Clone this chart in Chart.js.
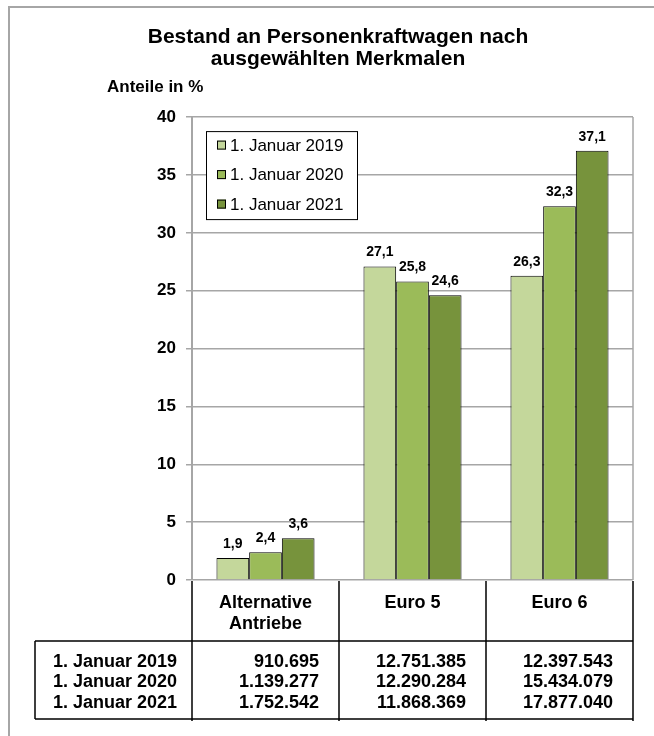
<!DOCTYPE html>
<html lang="de">
<head>
<meta charset="utf-8">
<title>Bestand an Personenkraftwagen nach ausgewählten Merkmalen</title>
<script src="https://cdn.jsdelivr.net/npm/chart.js@4.4.1/dist/chart.umd.min.js"></script>
<style>
  html, body { margin: 0; padding: 0; background: #fff; overflow: hidden; }
  #frame { position: absolute; left: 8px; top: 6px; width: 700px; height: 800px;
           border-top: 2px solid #a6a6a6; border-left: 2px solid #a6a6a6; }
  #wrap { position: absolute; left: 0; top: 0; width: 654px; height: 736px; }
</style>
</head>
<body>
<div id="frame"></div>
<div id="wrap"><canvas id="chart" width="654" height="736"></canvas></div>
<script>
// data
const categories   = [['Alternative', 'Antriebe'], ['Euro 5'], ['Euro 6']];
const seriesLabels = ['1. Januar 2019', '1. Januar 2020', '1. Januar 2021'];
const share2019 = [1.9, 27.1, 26.3];
const share2020 = [2.4, 25.8, 32.3];
const share2021 = [3.6, 24.6, 37.1];
const count2019 = [910695, 12751385, 12397543];
const count2020 = [1139277, 12290284, 15434079];
const count2021 = [1752542, 11868369, 17877040];
const yMax = 40;
const yStep = 5;

const colors = ['#c4d79b', '#9bbb59', '#77933c'];
const FONT = '"Liberation Sans", Arial, sans-serif';
const GRID = '#a6a6a6';

const fmtShare = v => v.toFixed(1).replace('.', ',');
const fmtCount = v => String(v).replace(/\B(?=(\d{3})+(?!\d))/g, '.');

// plot border on the right, legend box, value labels, table
const extras = {
  id: 'extras',
  beforeDatasetsDraw(chart) {
    const { ctx, chartArea: a } = chart;
    ctx.save();
    ctx.strokeStyle = GRID;
    ctx.lineWidth = 1.5;
    ctx.beginPath();
    ctx.moveTo(a.right, a.top);
    ctx.lineTo(a.right, a.bottom);
    ctx.stroke();
    ctx.restore();
  },
  afterDatasetsDraw(chart) {
    const { ctx } = chart;
    ctx.save();
    ctx.fillStyle = '#000';
    ctx.font = `bold 14px ${FONT}`;
    ctx.textAlign = 'center';
    ctx.textBaseline = 'middle';
    chart.data.datasets.forEach((ds, i) => {
      chart.getDatasetMeta(i).data.forEach((bar, j) => {
        ctx.fillText(fmtShare(ds.data[j]), bar.x, bar.y - 14);
      });
    });
    ctx.restore();
  },
  afterDraw(chart) {
    const { ctx, chartArea: a, scales: { x } } = chart;
    const n = chart.data.labels.length;
    const step = a.width / n;
    const bounds = [];
    for (let i = 0; i <= n; i++) bounds.push(a.left + i * step);

    ctx.save();
    ctx.fillStyle = '#000';
    ctx.textBaseline = 'middle';

    // axis caption
    ctx.font = `bold 17px ${FONT}`;
    ctx.textAlign = 'left';
    ctx.fillText('Anteile in %', a.left - 85, a.top - 30);

    // legend
    const lx = a.left + 14, ly = a.top + 14;
    ctx.fillStyle = '#fff';
    ctx.fillRect(lx, ly, 151, 88);
    ctx.strokeStyle = '#000';
    ctx.lineWidth = 1;
    ctx.strokeRect(lx + 0.5, ly + 0.5, 151, 88);
    ctx.font = `17px ${FONT}`;
    chart.data.datasets.forEach((ds, i) => {
      const cy = ly + 14 + i * 29.5;
      ctx.fillStyle = ds.backgroundColor;
      ctx.fillRect(lx + 11, cy - 4.5, 9, 9);
      ctx.strokeRect(lx + 11.5, cy - 4, 8, 8);
      ctx.fillStyle = '#000';
      ctx.fillText(ds.label, lx + 24, cy + 1);
    });

    // table lines
    const rowTop = a.bottom + 61;
    const rowBottom = a.bottom + 139;
    const tableLeft = a.left - 157;
    ctx.strokeStyle = '#000';
    ctx.lineWidth = 1.5;
    ctx.beginPath();
    bounds.forEach(bx => { ctx.moveTo(bx, a.bottom + 1); ctx.lineTo(bx, rowBottom + 2); });
    ctx.moveTo(tableLeft, rowTop); ctx.lineTo(a.right, rowTop);
    ctx.moveTo(tableLeft, rowBottom); ctx.lineTo(a.right, rowBottom);
    ctx.moveTo(tableLeft, rowTop); ctx.lineTo(tableLeft, rowBottom);
    ctx.stroke();

    // category headers
    ctx.font = `bold 18px ${FONT}`;
    ctx.textAlign = 'center';
    chart.data.labels.forEach((lab, i) => {
      const cx = x.getPixelForValue(i);
      lab.forEach((line, j) => ctx.fillText(line, cx, a.bottom + 23 + j * 21));
    });

    // rows
    const rows = [count2019, count2020, count2021];
    rows.forEach((vals, r) => {
      const cy = a.bottom + 82 + r * 20.5;
      ctx.textAlign = 'right';
      ctx.fillText(seriesLabels[r], a.left - 15, cy);
      vals.forEach((v, i) => ctx.fillText(fmtCount(v), bounds[i + 1] - 20, cy));
    });
    ctx.restore();
  }
};

new Chart(document.getElementById('chart'), {
  type: 'bar',
  data: {
    labels: categories,
    datasets: [
      { label: seriesLabels[0], data: share2019, backgroundColor: colors[0] },
      { label: seriesLabels[1], data: share2020, backgroundColor: colors[1] },
      { label: seriesLabels[2], data: share2021, backgroundColor: colors[2] },
    ].map(ds => ({ ...ds, borderColor: '#000', borderWidth: 1,
                   categoryPercentage: 0.667, barPercentage: 1 }))
  },
  options: {
    responsive: false,
    animation: false,
    layout: { padding: { left: 43, right: 21, top: 16, bottom: 156 } },
    plugins: {
      legend: { display: false },
      tooltip: { enabled: false },
      title: {
        display: true,
        text: ['Bestand an Personenkraftwagen nach', 'ausgewählten Merkmalen'],
        color: '#000',
        font: { family: FONT, size: 21, weight: 'bold', lineHeight: 1.05 },
        padding: { top: 10, bottom: 47 }
      }
    },
    scales: {
      x: { display: false },
      y: {
        min: 0, max: yMax,
        afterFit: s => { s.width = 149; },
        ticks: { stepSize: yStep, padding: 10, color: '#000',
                 font: { family: FONT, size: 17, weight: 'bold' } },
        grid: { color: GRID, lineWidth: 1.5, tickLength: 6, tickColor: GRID },
        border: { color: GRID, width: 2 }
      }
    }
  },
  plugins: [extras]
});
</script>
</body>
</html>
